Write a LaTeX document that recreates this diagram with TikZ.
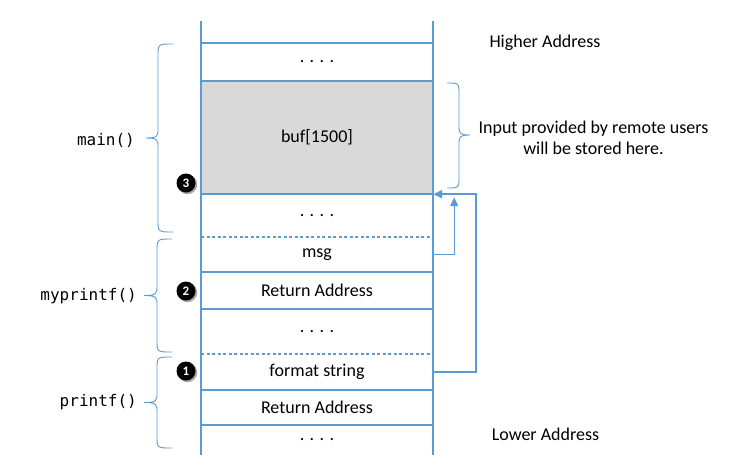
\documentclass[tikz,border=0pt]{standalone}
\usepackage{fontspec}
\setmainfont{Carlito}
\newfontfamily\codefont{DejaVu Sans Mono}
\usetikzlibrary{arrows.meta,calc}
\definecolor{lblue}{HTML}{5B9BD5}
\definecolor{bufgray}{HTML}{D9D9D9}
\newcommand\bracel[5]{% xtip, xbody, xend, ytop, ybot
  \draw[bracestyle] (#3,#4) .. controls (#2,#4) and (#2,#4) .. (#2,{#4+12})
    -- (#2,{(#4+#5)/2-10}) .. controls (#2,{(#4+#5)/2-2}) and (#2,{(#4+#5)/2}) .. (#1,{(#4+#5)/2})
    .. controls (#2,{(#4+#5)/2}) and (#2,{(#4+#5)/2+2}) .. (#2,{(#4+#5)/2+10})
    -- (#2,{#5-12}) .. controls (#2,#5) and (#2,#5) .. (#3,#5);}
\begin{document}
\begin{tikzpicture}[x=1pt,y=-1pt,
  bracestyle/.style={lblue, line width=0.9pt},
  stackline/.style={lblue, line width=1.3pt},
  dashline/.style={lblue, line width=1.5pt, dash pattern=on 3pt off 2.5pt},
  cell/.style={minimum width=232pt, inner sep=0pt, font=\fontsize{18}{20}\selectfont},
  side/.style={font=\fontsize{18}{21}\selectfont, inner sep=0pt},
  code/.style={font=\codefont\fontsize{16}{18}\selectfont, inner sep=0pt, anchor=east},
  num/.style={circle, fill=black, minimum size=19pt, inner sep=0pt, text=white, font=\bfseries\fontsize{13}{14}\selectfont},
  flow/.style={lblue, line width=2pt, -{Triangle[length=9pt,width=8pt]}},
  flowthin/.style={lblue, line width=1.3pt, -{Triangle[length=9pt,width=8pt]}}
]
\useasboundingbox (0,0) rectangle (751,467);
% gray buffer
\fill[bufgray] (201,81) rectangle (433,194);
% row nodes
\node[cell, minimum height=38pt] (top) at (317,62) {. . . .};
\node[cell, minimum height=113pt] (buf) at (317,137.5) {buf[1500]};
\node[cell, minimum height=43pt] (d1) at (317,215.5) {. . . .};
\node[cell, minimum height=35pt] (msg) at (317,254.5) {msg};
\node[cell, minimum height=37pt] (ret2) at (317,290.5) {Return Address};
\node[cell, minimum height=45pt] (d2) at (317,331.5) {. . . .};
\node[cell, minimum height=36pt] (fmt) at (317,372) {format string};
\node[cell, minimum height=35pt] (ret1) at (317,407.5) {Return Address};
\node[cell, minimum height=30pt] (d3) at (317,440) {. . . .};
% stack outline
\draw[stackline] (201,21) -- (201,455);
\draw[stackline] (433,21) -- (433,455);
\draw[stackline] (201,43) -- (433,43);
\draw[stackline] (201,81) -- (433,81);
\draw[stackline] (201,194) -- (433,194);
\draw[dashline] (201,237) -- (433,237);
\draw[stackline] (201,272) -- (433,272);
\draw[stackline] (201,309) -- (433,309);
\draw[dashline] (201,354) -- (433,354);
\draw[stackline] (201,390) -- (433,390);
\draw[stackline] (201,425) -- (433,425);
% braces
\bracel{146}{158}{173}{44}{232}
\bracel{144}{157}{172}{239}{352}
\bracel{144}{157}{172}{357}{448}
\draw[bracestyle] (447,83) .. controls (459,83) and (459,83) .. (459,95)
  -- (459,125) .. controls (459,133) and (459,135) .. (470,135)
  .. controls (459,135) and (459,137) .. (459,145)
  -- (459,176) .. controls (459,188) and (459,188) .. (447,188);
% labels
\node[code] (lmain) at (135,140) {main()};
\node[code] (lmyp) at (137,296) {myprintf()};
\node[code] (lpf) at (137,402) {printf()};
\node[side] (hi) at (545,43) {Higher Address};
\node[side] (lo) at (545.5,434) {Lower Address};
\node[side, align=center] (inp) at (593.5,137.5) {Input provided by remote users\\will be stored here.};
% numbered markers
\fill[black!35] (187.5,184.5) circle (9.7pt);
\fill[black!35] (187.5,292.5) circle (9.7pt);
\fill[black!35] (187.5,372.5) circle (9.7pt);
\node[num] (n3) at (186,183) {3};
\node[num] (n2) at (186,291) {2};
\node[num] (n1) at (186,371) {1};
% arrows
\draw[flow] (fmt.east) -- ++(43,0) |- (buf.south east);
\draw[flowthin] (msg.east) -- ++(21,0) -- ([xshift=21pt,yshift=-3pt]buf.south east);
\end{tikzpicture}
\end{document}
